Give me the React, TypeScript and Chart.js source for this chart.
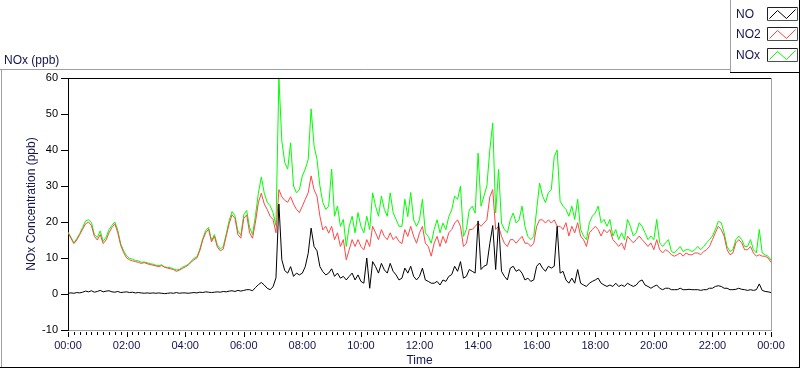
import { useEffect, useRef } from 'react';
import { Chart, registerables } from 'chart.js';

Chart.register(...registerables);

// Sample spacing in minutes (00:00 -> 24:00)
const STEP_MINUTES = 6;

// NO (ppb)
const NO = [
  0.2, 0.3, 0.2, 0.4, 0.3, 0.5, 0.8, 0.6, 0.9, 0.5,
  0.7, 1.0, 0.6, 0.8, 0.9, 0.6, 0.5, 0.7, 0.4, 0.5,
  0.6, 0.4, 0.5, 0.3, 0.4, 0.3, 0.2, 0.3, 0.2, 0.3,
  0.2, 0.3, 0.2, 0.1, 0.2, 0.3, 0.2, 0.4, 0.2, 0.3,
  0.3, 0.2, 0.3, 0.4, 0.3, 0.5, 0.4, 0.6, 0.5, 0.4,
  0.5, 0.6, 0.5, 0.7, 0.6, 0.8, 0.9, 0.7, 1.0, 0.8,
  1.0, 1.2, 1.2, 0.9, 1.8, 2.6, 3.2, 2.5, 1.6, 1.2,
  2.0, 4.5, 25, 9.5, 6.5, 5.8, 7.6, 4.9, 5.8, 5.3,
  5.8, 7.6, 11.3, 18.3, 13.2, 12, 7.6, 6.2, 5.3, 5.8,
  7, 4.9, 5.8, 4.4, 4.9, 3.9, 4.9, 5.8, 3.9, 5.3,
  3.5, 3, 10, 1.6, 9, 7.6, 5.8, 8.5, 6.7, 5.8,
  8.5, 6.3, 5.3, 3.9, 4.4, 7.2, 5.8, 7.7, 4.9, 3.9,
  4.9, 7.2, 3.9, 3.5, 3, 3, 3.5, 2.5, 3.9, 3.5,
  4.9, 5.4, 7.7, 6.3, 9, 4.4, 4.9, 6.8, 6.3, 5.8,
  20.3, 6.8, 7.7, 8.1, 14, 19, 6.8, 19.8, 6.3, 4.9,
  3.9, 7.2, 7.7, 6.3, 6.8, 5.8, 3.9, 4.4, 3.5, 3.9,
  7.7, 8.6, 7.2, 6.3, 7.7, 7.2, 7.7, 18.8, 5.8, 6.3,
  3.9, 3, 4.4, 3, 6.8, 3, 2.5, 2.1, 3, 3.5,
  3.9, 4.4, 3, 2.5, 2.1, 2.5, 2.1, 3, 2.1, 2.5,
  2.1, 3, 2.5, 2.1, 2.5, 3.5, 3.9, 2.5, 2.1, 1.6,
  2.1, 2.5, 1.6, 1.2, 1.6, 1.6, 1.2, 1.2, 1.2, 1.6,
  1.2, 1.2, 1.3, 1.2, 1.2, 1.2, 1.0, 1.2, 1.2, 1.6,
  1.6, 2.1, 2.3, 2.1, 1.6, 1.6, 1.2, 1.2, 1.3, 1.6,
  1.3, 1.2, 1.0, 1.2, 1.0, 1.2, 2.8, 1.0, 0.7, 0.6,
  0.4,
];

// NO2 (ppb)
const NO2 = [
  17, 15.5, 14, 15, 16.5, 18, 19.5, 20, 19, 16,
  15, 16.5, 14, 15, 17, 18.5, 19.5, 17, 13.5, 11.5,
  10, 9.5, 9.2, 9, 8.8, 8.5, 8.7, 8.4, 8.2, 8,
  7.8, 7.6, 7.9, 7.4, 7.2, 7, 6.8, 6.3, 6.6, 7.1,
  7.5, 8, 8.8, 9.5, 10, 12, 15, 17, 18, 14.5,
  16, 13, 12, 12.5, 16, 19.5, 22, 21, 16.5, 15.5,
  21, 22, 17, 15.5, 20, 25.4, 28, 25, 23.5, 21.6,
  20.7, 17, 29, 27, 26, 25.5, 27, 25, 23.5, 22.6,
  24.4, 26.3, 28.1, 32.8, 29, 27.2, 21.6, 17.8, 18.8, 16.9,
  18.8, 15.1, 17, 13.2, 15.1, 9.5, 12.3, 15.1, 13.2, 15.1,
  13.2, 12.3, 15.1, 13.2, 18.8, 17, 15.1, 17.9, 16, 15.1,
  17, 15.1, 16, 14.6, 14, 17.9, 16, 18.8, 16, 14.1,
  17, 18.8, 14.1, 13.2, 10.5, 14.1, 16, 13.2, 16, 14.1,
  17, 17.9, 19.7, 20.6, 18.8, 13.2, 14.1, 17.9, 17.9, 18.8,
  19.7, 18.8, 19.7, 20.6, 27, 29, 17.9, 18.8, 16, 14.1,
  13.2, 15.1, 15.1, 14.1, 15.1, 16, 14.1, 14.1, 13.2, 14.1,
  18.8, 20.6, 20.6, 19.7, 20.6, 19.7, 20.6, 18.8, 18.8, 17.9,
  19.8, 16.1, 18.8, 17, 19.8, 16.1, 15.1, 13.2, 17, 17.9,
  18.8, 17.9, 16.1, 17.9, 17, 17.9, 15.1, 14.2, 13.2, 14.2,
  12.3, 16.1, 15.1, 14.2, 15.1, 16.1, 15.1, 14.2, 13.2, 14.2,
  12.3, 15.1, 12.3, 11.4, 12.3, 11.8, 10.9, 10.5, 10.9, 11.4,
  10.5, 11.4, 10.9, 10.9, 11.4, 11.4, 10.9, 11.8, 12.3, 13.2,
  15.1, 17, 18.8, 17.9, 16.1, 12.3, 10.9, 11.4, 14.2, 15.1,
  14.2, 12.3, 12.3, 13.2, 11.4, 10.5, 10.9, 10.5, 10.5, 10,
  8.8,
];

// NOx (ppb)
const NOX = [
  17.2, 15.8, 14.2, 15.4, 16.8, 18.5, 20.3, 20.6, 19.9, 16.5,
  15.7, 17.5, 14.6, 15.8, 17.9, 19.1, 20, 17.7, 13.9, 12,
  10.6, 9.9, 9.7, 9.3, 9.2, 8.8, 8.9, 8.7, 8.4, 8.3,
  8, 7.9, 8.1, 7.5, 7.4, 7.3, 7, 6.7, 6.8, 7.4,
  7.8, 8.2, 9.1, 9.9, 10.3, 12.5, 15.4, 17.6, 18.5, 14.9,
  16.5, 13.6, 12.5, 13.2, 16.6, 20.3, 22.9, 21.7, 17.5, 16.3,
  22, 23.2, 18.5, 16.5, 21.8, 28, 32.5, 28, 25.5, 24.5,
  22.6, 19, 60, 42.5, 36.5, 34.7, 42, 30, 28.1, 29,
  32.8, 34.7, 37.4, 51.4, 41.2, 37.4, 30, 25.4, 23.5, 24.4,
  34.7, 21.6, 24.4, 18.8, 20.7, 13.2, 18.8, 21.6, 17, 22.6,
  18.8, 17, 21.6, 17.9, 28.1, 24.4, 21.6, 27.2, 23.5, 21.6,
  28.1, 22.6, 20.7, 18.8, 18.8, 26.3, 21.5, 28.2, 20.6, 18.8,
  20.6, 26.3, 17, 16, 14.1, 17.9, 20.6, 17, 19.7, 17.9,
  21.5, 23.4, 27.2, 26.3, 30, 16, 17.9, 23.4, 24.4, 22.5,
  39.1, 24.4, 27.2, 30, 40, 47.5, 22.5, 34.6, 19.7, 17.9,
  17, 20.6, 22.5, 19.7, 20.6, 24.4, 18.8, 16, 15.1, 16,
  23.4, 30.8, 27.2, 25.4, 28.2, 29, 38.2, 40, 25.8, 24.4,
  23.5, 21.6, 24.4, 20.7, 26.3, 17.9, 16.1, 15.1, 19.8, 21.6,
  22.5, 24.4, 19.8, 20.7, 18.8, 20.7, 16.1, 17.9, 15.1, 17,
  15.1, 20.7, 18.8, 16.1, 17, 19.8, 18.8, 17, 15.1, 16.1,
  15.1, 20.7, 14.2, 13.2, 14.2, 15.1, 11.8, 11.4, 12.3, 13.2,
  11.8, 12.3, 12.3, 11.8, 12.3, 13.2, 12.3, 13.2, 14.2, 15.1,
  16.1, 17.9, 20.2, 19.8, 17, 13.2, 11.8, 12.3, 15.1, 16.1,
  15.1, 13.2, 13.2, 15.1, 12.3, 11.4, 17.9, 11.4, 10.9, 10.5,
  9.4,
];

const SERIES_LABELS = ['NO', 'NO2', 'NOx'];
const SERIES_COLORS = ['#000000', '#ff4646', '#00ff00'];
const Y_MIN = -10;
const Y_MAX = 60;
const Y_STEP = 10;
const X_MAX_MINUTES = 1440;
const X_LABEL_STEP = 120;
const X_MINOR_STEP = 12;

const CHART_TITLE = 'NOx (ppb)';
const Y_TITLE = 'NOx Concentration (ppb)';
const X_TITLE = 'Time';

const FONT = '"Liberation Sans", Arial, sans-serif';
const TEXT_NAVY = '#141450';

function toPoints(values: number[]) {
  return values.map((v, i) => ({ x: i * STEP_MINUTES, y: v }));
}

function fmtTime(v: number) {
  const h = Math.round(v / 60) % 24;
  return (h < 10 ? '0' : '') + h + ':00';
}

const framePlugin = {
  id: 'labviewFrame',
  beforeDraw(chart: any) {
    const { ctx, width, height } = chart;
    ctx.save();
    ctx.fillStyle = '#ffffff';
    ctx.fillRect(0, 0, width, height);
    ctx.restore();
  },
  afterDraw(chart: any) {
    const ctx = chart.ctx as CanvasRenderingContext2D;
    const { left, right, top, bottom } = chart.chartArea;
    ctx.save();
    ctx.lineWidth = 1;
    const line = (x1: number, y1: number, x2: number, y2: number, c: string) => {
      ctx.strokeStyle = c;
      ctx.beginPath();
      ctx.moveTo(x1, y1);
      ctx.lineTo(x2, y2);
      ctx.stroke();
    };
    // outer panel
    line(0, 69.5, 731, 69.5, '#a0a0a0');
    line(1.5, 69, 1.5, 368, '#a0a0a0');
    line(0, 367.5, 800, 367.5, '#000000');
    line(799.5, 0, 799.5, 368, '#000000');
    // legend box
    line(730.5, 0, 730.5, 73, '#a0a0a0');
    line(730, 72.5, 800, 72.5, '#000000');
    // plot frame top & right
    line(left, top + 0.5, right + 1, top + 0.5, '#000000');
    line(right + 0.5, top, right + 0.5, bottom + 1, '#a0a0a0');

    // x tick marks (major every 2h, minor every 12 min)
    const xs = chart.scales.x;
    for (let m = 0; m <= X_MAX_MINUTES; m += X_MINOR_STEP) {
      const px = Math.round(xs.getPixelForValue(m)) + 0.5;
      const major = m % X_LABEL_STEP === 0;
      line(px, bottom + 2, px, bottom + (major ? 7 : 5), '#000000');
    }

    // chart caption
    ctx.fillStyle = TEXT_NAVY;
    ctx.font = '12px ' + FONT;
    ctx.textBaseline = 'alphabetic';
    ctx.textAlign = 'left';
    ctx.fillText(CHART_TITLE, 4, 64);

    // legend
    const datasets = chart.data.datasets;
    datasets.forEach((ds: any, k: number) => {
      const rowTop = 6.5 + k * 20.5;
      ctx.fillStyle = TEXT_NAVY;
      ctx.fillText(ds.label, 736, rowTop + 11);
      const bx = 767.5;
      const by = Math.round(rowTop) + 0.5;
      const bw = 30;
      const bh = 13;
      ctx.fillStyle = '#ffffff';
      ctx.fillRect(bx, by, bw, bh);
      line(bx, by, bx + bw, by, '#202020');
      line(bx, by, bx, by + bh, '#202020');
      line(bx, by + bh, bx + bw, by + bh, '#505050');
      line(bx + bw, by, bx + bw, by + bh, '#505050');
      ctx.strokeStyle = ds.borderColor;
      ctx.beginPath();
      ctx.moveTo(bx + 2, by + 11);
      ctx.lineTo(bx + 10, by + 3);
      ctx.lineTo(bx + 19, by + 11);
      ctx.lineTo(bx + 28, by + 2);
      ctx.stroke();
    });
    ctx.restore();
  },
};

export default function App() {
  const canvasRef = useRef<HTMLCanvasElement | null>(null);

  useEffect(() => {
    const canvas = canvasRef.current;
    if (!canvas) return;
    const seriesValues = [NO, NO2, NOX];
    const chart = new Chart(canvas, {
      type: 'line',
      data: {
        datasets: seriesValues.map((vals, k) => ({
          label: SERIES_LABELS[k],
          data: toPoints(vals),
          borderColor: SERIES_COLORS[k],
          backgroundColor: SERIES_COLORS[k],
          borderWidth: 1,
          pointRadius: 0,
          tension: 0,
          fill: false,
          order: k,
        })),
      },
      options: {
        responsive: false,
        animation: false,
        events: [],
        layout: { padding: { left: 0, top: 78, right: 29, bottom: 0 } },
        plugins: {
          legend: { display: false },
          tooltip: { enabled: false },
          title: { display: false },
        },
        scales: {
          x: {
            type: 'linear',
            min: 0,
            max: X_MAX_MINUTES,
            afterFit: (s: any) => {
              s.height = 39;
            },
            ticks: {
              stepSize: X_LABEL_STEP,
              autoSkip: false,
              maxRotation: 0,
              color: TEXT_NAVY,
              font: { family: FONT, size: 11 },
              padding: 3,
              callback: (v: any) => fmtTime(Number(v)),
            },
            grid: { display: false, drawTicks: true, tickLength: 6 },
            border: { display: true, color: '#a0a0a0', width: 1 },
            title: {
              display: true,
              text: X_TITLE,
              color: TEXT_NAVY,
              font: { family: FONT, size: 12 },
              padding: { top: 0, bottom: 1 },
            },
          },
          y: {
            type: 'linear',
            min: Y_MIN,
            max: Y_MAX,
            afterFit: (s: any) => {
              s.width = 68;
            },
            ticks: {
              stepSize: Y_STEP,
              color: '#000000',
              font: { family: FONT, size: 11 },
              padding: 3,
            },
            grid: {
              display: true,
              drawOnChartArea: false,
              drawTicks: true,
              tickLength: 7,
              color: '#000000',
            },
            border: { display: true, color: '#000000', width: 1 },
            title: {
              display: true,
              text: Y_TITLE,
              color: TEXT_NAVY,
              font: { family: FONT, size: 12 },
              padding: { top: 24, bottom: 0 },
            },
          },
        },
      },
      plugins: [framePlugin],
    });
    return () => chart.destroy();
  }, []);

  return (
    <div style={{ position: 'fixed', left: 0, top: 0, width: 800, height: 369, background: '#fff' }}>
      <canvas ref={canvasRef} width={800} height={369} style={{ display: 'block', width: 800, height: 369 }} />
    </div>
  );
}
